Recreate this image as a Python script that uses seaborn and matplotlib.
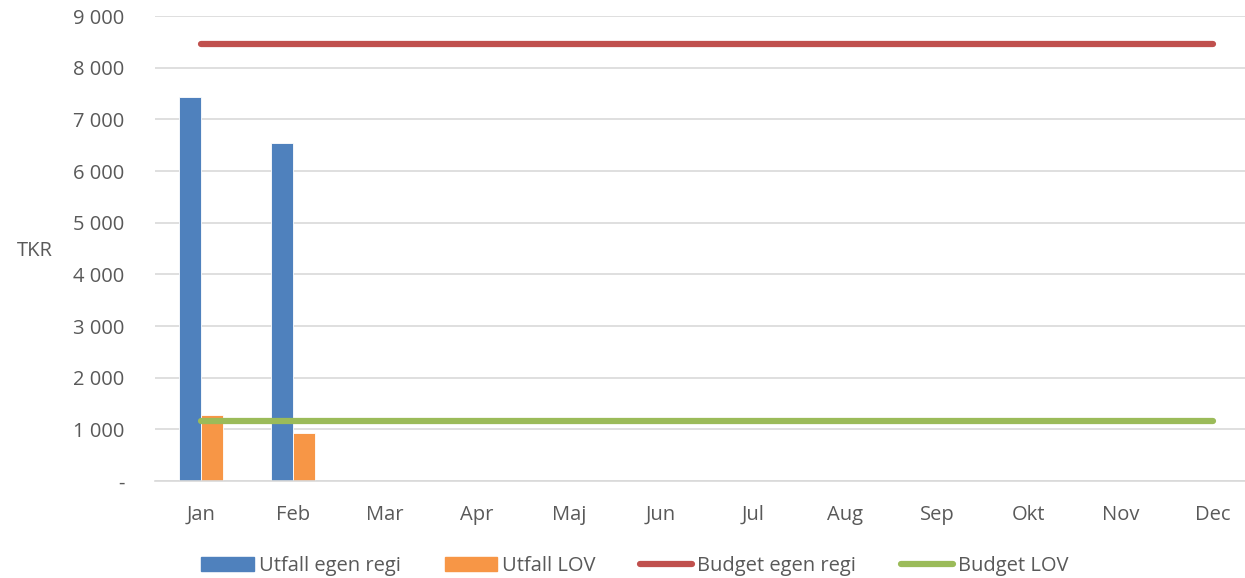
import numpy as np
import pandas as pd
import matplotlib
matplotlib.use("Agg")
import matplotlib.pyplot as plt
import seaborn as sns
from matplotlib.patches import Patch
from matplotlib.lines import Line2D

months = ["Jan", "Feb", "Mar", "Apr", "Maj", "Jun", "Jul", "Aug", "Sep", "Okt", "Nov", "Dec"]
utfall_egen_regi = [7430, 6540]
utfall_lov = [1280, 930]
budget_egen_regi = [8460] * 12
budget_lov = [1160] * 12

sns.set_style("white")
plt.rcParams['font.family'] = ['Open Sans', 'DejaVu Sans']
grey = "#595959"
fs = 14.5

# long table for the bars
bars = pd.DataFrame({
    "month": months[:2] * 2,
    "value": utfall_egen_regi + utfall_lov,
    "serie": ["Utfall egen regi"] * 2 + ["Utfall LOV"] * 2,
})

fig = plt.figure(figsize=(12.45, 5.78), dpi=100)
ax = fig.add_axes([0.1245, 0.1678, 0.8867, 0.8045])

sns.barplot(data=bars, x="month", y="value", hue="serie", order=months,
            palette=["#4f81bd", "#f79646"], saturation=1, width=0.48,
            ax=ax, legend=False)
for p in ax.patches:
    p.set_edgecolor("white")
    p.set_linewidth(0.6)

sns.lineplot(x=np.arange(12), y=budget_egen_regi, color="#c0504d", lw=4.5,
             ax=ax, solid_capstyle="round", zorder=3)
sns.lineplot(x=np.arange(12), y=budget_lov, color="#9bbb59", lw=4.5,
             ax=ax, solid_capstyle="round", zorder=3)

ax.set_xlim(-0.5, 11.5)
ax.set_ylim(0, 9000)
ax.set_yticks(range(0, 9001, 1000))
ax.set_yticklabels(["-"] + [f"{v:,}".replace(",", " ") for v in range(1000, 9001, 1000)])
ax.grid(axis="y", color="#d9d9d9", lw=1.2)
ax.set_axisbelow(True)
for s in ["top", "right", "left"]:
    ax.spines[s].set_visible(False)
ax.spines["bottom"].set_color("#d9d9d9")
ax.spines["bottom"].set_linewidth(1.2)
ax.tick_params(length=0, labelsize=fs, colors=grey)
ax.tick_params(axis="x", pad=17)
ax.tick_params(axis="y", pad=22)
ax.set_xlabel("")
ax.set_ylabel("")
fig.text(0.028, 0.565, "TKR", fontsize=fs, color=grey, va="center", ha="center")

handles = [Patch(color="#4f81bd"), Patch(color="#f79646"),
           Line2D([], [], color="#c0504d", lw=4.5, solid_capstyle="round"),
           Line2D([], [], color="#9bbb59", lw=4.5, solid_capstyle="round")]
labels = ["Utfall egen regi", "Utfall LOV", "Budget egen regi", "Budget LOV"]
leg = fig.legend(handles, labels, loc="center", bbox_to_anchor=(0.51, 0.02), ncol=4,
                 frameon=False, fontsize=fs, handlelength=2.6, handletextpad=0.25,
                 columnspacing=2.2)
for t in leg.get_texts():
    t.set_color(grey)

fig.savefig("out.png", dpi=100)
